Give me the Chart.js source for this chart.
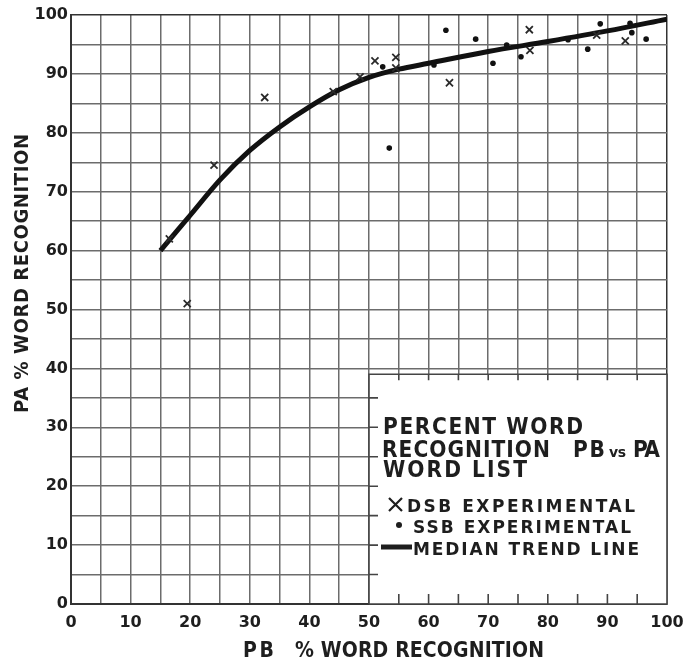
<!DOCTYPE html>
<html><head><meta charset="utf-8">
<script src="https://cdn.jsdelivr.net/npm/chart.js@4.4.1/dist/chart.umd.min.js"></script>
<style>html,body{margin:0;padding:0;background:#fff;} #wrap{width:700px;height:660px;}</style>
</head><body><div id="wrap"><canvas id="c" width="700" height="660"></canvas></div>
<script>
// ---- data ----
const xTickLabels = ['0','10','20','30','40','50','60','70','80','90','100'];
const yTickLabels = ['0','10','20','30','40','50','60','70','80','90','100'];

const dsbX = [16.5, 19.5, 24, 32.5, 44, 48.5, 51, 54.5, 54.5, 63.5, 76.9, 77, 88.2, 93];
const dsbY = [62, 51, 74.5, 86, 87, 89.5, 92.2, 92.8, 91, 88.5, 97.5, 94, 96.6, 95.6];

const ssbX = [52.3, 53.4, 60.9, 62.9, 67.9, 70.8, 73.1, 75.5, 83.4, 86.7, 88.8, 93.8, 94.1, 96.5];
const ssbY = [91.2, 77.4, 91.5, 97.4, 95.9, 91.8, 94.9, 92.9, 95.8, 94.2, 98.5, 98.6, 97, 95.9];

const trendX = [15, 20, 25, 30, 35, 40, 45, 50, 55, 60, 70, 80, 90, 100];
const trendY = [60, 66, 72, 77, 81, 84.4, 87.3, 89.4, 90.8, 91.8, 93.8, 95.5, 97.3, 99.3];

const titleLines = ['PERCENT WORD', 'RECOGNITION PB vs PA', 'WORD LIST'];
const legendLabels = ['DSB EXPERIMENTAL', 'SSB EXPERIMENTAL', 'MEDIAN TREND LINE'];
const xTitle = ['PB', '% WORD RECOGNITION'];
const yTitle = 'PA % WORD RECOGNITION';

const zip = (xs, ys) => xs.map((x, i) => ({x, y: ys[i]}));
const FONT = '"DejaVu Sans", sans-serif';
const INK = '#1e1e1e';

// draw text fitted to a width: horizontal scale hs, then letter spacing
function fitText(ctx, text, x, y, w, font, hs) {
  hs = hs || 1;
  ctx.save();
  ctx.translate(x, y);
  ctx.scale(hs, 1);
  ctx.font = font;
  ctx.letterSpacing = '0px';
  const m = ctx.measureText(text).width;
  const ls = text.length > 1 ? (w / hs - m) / (text.length - 1) : 0;
  ctx.letterSpacing = ls + 'px';
  ctx.fillText(text, 0, 0);
  ctx.restore();
}

const decor = {
  id: 'decor',
  beforeDatasetsDraw(chart) {
    const {ctx, scales: {x, y}} = chart;
    const L = x.getPixelForValue(50), R = x.getPixelForValue(100);
    const T = y.getPixelForValue(39), B = y.getPixelForValue(0);
    ctx.save();
    ctx.fillStyle = '#fff';
    ctx.fillRect(L, T, R - L, B - T);
    ctx.strokeStyle = '#444';
    ctx.lineWidth = 1.6;
    ctx.beginPath();
    ctx.moveTo(L, B); ctx.lineTo(L, T); ctx.lineTo(R, T); ctx.lineTo(R, B); ctx.lineTo(L, B);
    for (let v = 55; v < 100; v += 5) {
      const px = x.getPixelForValue(v);
      ctx.moveTo(px, T); ctx.lineTo(px, T + 6);
      ctx.moveTo(px, B); ctx.lineTo(px, B - 10);
    }
    for (let v = 5; v < 39; v += 5) {
      const py = y.getPixelForValue(v);
      ctx.moveTo(L, py); ctx.lineTo(L + 9, py);
    }
    ctx.stroke();

    ctx.fillStyle = INK;
    ctx.textAlign = 'left';
    ctx.textBaseline = 'alphabetic';
    const big = 'bold 23px ' + FONT;
    const hs = 0.88;
    fitText(ctx, titleLines[0], 383, 434, 200, big, hs);
    fitText(ctx, 'RECOGNITION', 382, 457, 168, big, hs);
    fitText(ctx, 'PB', 573, 457, 32, big, hs);
    fitText(ctx, 'vs', 609, 457, 17, 'bold 14px ' + FONT, 1);
    fitText(ctx, 'PA', 633, 457, 27, big, hs);
    fitText(ctx, titleLines[2], 383, 477, 144, big, hs);

    const small = 'bold 17px ' + FONT;
    ctx.strokeStyle = INK; ctx.lineWidth = 2.2;
    ctx.beginPath();
    ctx.moveTo(389, 498); ctx.lineTo(402, 511);
    ctx.moveTo(402, 498); ctx.lineTo(389, 511);
    ctx.stroke();
    fitText(ctx, legendLabels[0], 407, 512, 228, small, 1);
    ctx.beginPath(); ctx.arc(399, 525, 3, 0, Math.PI * 2); ctx.fill();
    fitText(ctx, legendLabels[1], 413, 533, 218, small, 1);
    ctx.lineWidth = 5; ctx.lineCap = 'butt';
    ctx.beginPath(); ctx.moveTo(381, 547); ctx.lineTo(412, 547); ctx.stroke();
    fitText(ctx, legendLabels[2], 413, 555, 226, small, 1);
    ctx.restore();
  },
  afterDraw(chart) {
    const {ctx} = chart;
    ctx.save();
    ctx.fillStyle = INK;
    ctx.textAlign = 'left';
    ctx.textBaseline = 'alphabetic';
    const f = 'bold 21px ' + FONT;
    fitText(ctx, xTitle[0], 243, 657, 31, f, 0.9);
    fitText(ctx, xTitle[1], 295, 657, 249, f, 0.9);
    ctx.translate(28, 413);
    ctx.rotate(-Math.PI / 2);
    fitText(ctx, yTitle, 0, 0, 279, 'bold 20px ' + FONT, 0.9);
    ctx.restore();
  }
};

new Chart(document.getElementById('c'), {
  type: 'scatter',
  data: {
    datasets: [
      {label: 'MEDIAN TREND LINE', data: zip(trendX, trendY), showLine: true,
       borderColor: '#111', borderWidth: 5, pointRadius: 0, cubicInterpolationMode: 'monotone', order: 3},
      {label: 'DSB EXPERIMENTAL', data: zip(dsbX, dsbY), pointStyle: 'crossRot',
       pointRadius: 5, borderColor: '#2a2a2a', borderWidth: 1.8, order: 1},
      {label: 'SSB EXPERIMENTAL', data: zip(ssbX, ssbY), pointStyle: 'circle',
       pointRadius: 2.8, backgroundColor: '#111', borderColor: '#111', borderWidth: 0, order: 2}
    ]
  },
  options: {
    responsive: false,
    devicePixelRatio: 1,
    animation: false,
    layout: {padding: {top: 15, right: 33, left: 0, bottom: 0}},
    plugins: {legend: {display: false}, tooltip: {enabled: false}},
    scales: {
      x: {
        type: 'linear', min: 0, max: 100,
        afterFit: s => { s.height = 56; },
        ticks: {stepSize: 5, autoSkip: false, maxRotation: 0, padding: 9, color: INK,
          font: {family: FONT, size: 16, weight: 'bold'},
          callback: v => v % 10 === 0 ? xTickLabels[v / 10] : ''},
        grid: {drawTicks: false, lineWidth: 1.5,
          color: c => (c.tick && c.tick.value === 100) ? '#333' : '#6c6c6c'},
        border: {display: true, color: '#333', width: 2}
      },
      y: {
        type: 'linear', min: 0, max: 100,
        afterFit: s => { s.width = 71; },
        ticks: {stepSize: 5, autoSkip: false, padding: 3, color: INK,
          font: {family: FONT, size: 16, weight: 'bold'},
          callback: v => v % 10 === 0 ? yTickLabels[v / 10] : ''},
        grid: {drawTicks: false, lineWidth: 1.5,
          color: c => (c.tick && c.tick.value === 100) ? '#333' : '#6c6c6c'},
        border: {display: true, color: '#333', width: 2}
      }
    }
  },
  plugins: [decor]
});
</script>
</body></html>
